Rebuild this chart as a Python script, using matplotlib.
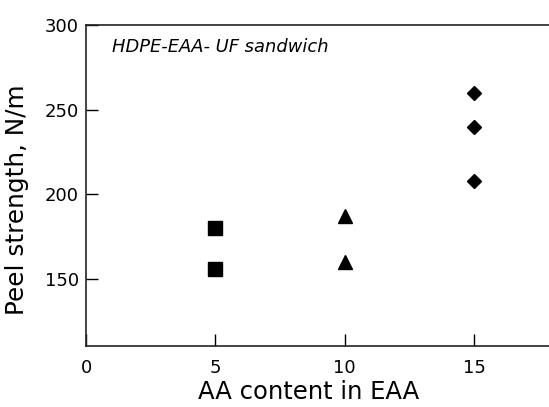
import matplotlib
matplotlib.use("Agg")
import matplotlib.pyplot as plt

# Peel strength of HDPE-EAA-UF sandwich vs. AA content in EAA
aa_5 = [5, 5]
peel_5 = [180, 156]
aa_10 = [10, 10]
peel_10 = [187, 160]
aa_15 = [15, 15, 15]
peel_15 = [260, 240, 208]

x_ticks = [0, 5, 10, 15]
y_ticks = [150, 200, 250, 300]

plt.rcParams["font.family"] = ["DejaVu Sans"]

fig = plt.figure(figsize=(5.49, 4.07), dpi=100)
ax = fig.add_axes([86 / 549, 1 - 345.5 / 407, 1 - 86 / 549, 320.5 / 407])

ax.plot(aa_5, peel_5, linestyle="none", marker="s", markersize=9.5, color="black")
ax.plot(aa_10, peel_10, linestyle="none", marker="^", markersize=10.5, color="black")
ax.plot(aa_15, peel_15, linestyle="none", marker="D", markersize=6.8, color="black")

ax.set_xlim(0, 17.9)
ax.set_ylim(110.6, 300)
ax.set_xticks(x_ticks)
ax.set_yticks(y_ticks)

ax.spines["right"].set_visible(False)
for side in ("left", "bottom", "top"):
    ax.spines[side].set_linewidth(1.2)
    ax.spines[side].set_color("#222222")

ax.tick_params(axis="both", direction="in", length=8.6, width=1.0,
               labelsize=13, colors="black")
ax.tick_params(axis="x", pad=10)
ax.tick_params(axis="y", pad=5)

ax.text(0.056, 0.93, "HDPE-EAA- UF sandwich", transform=ax.transAxes,
        fontsize=12.9, fontstyle="italic", ha="left", va="center")

fig.text(309 / 549, 1 - 392 / 407, "AA content in EAA", fontsize=17.5,
         ha="center", va="center")
fig.text(17 / 549, 1 - 200 / 407, "Peel strength, N/m", fontsize=17.8,
         ha="center", va="center", rotation=90)

fig.savefig("out.png", dpi=100)
